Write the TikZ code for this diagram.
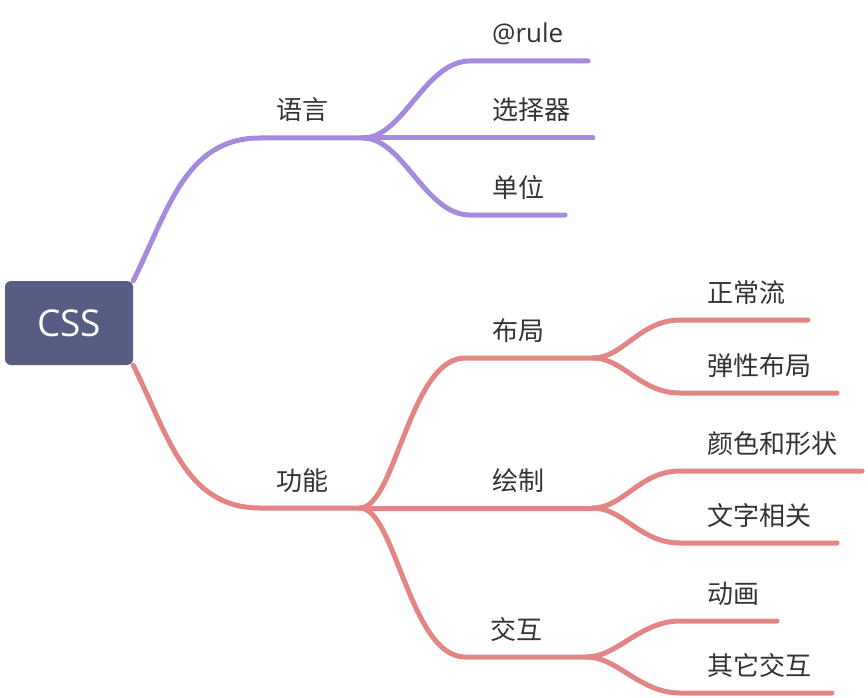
\documentclass[tikz,border=0pt]{standalone}
\usepackage{fontspec}
\setmainfont{Open Sans}
\newfontfamily\cjk{Noto Sans CJK SC}
\usetikzlibrary{backgrounds}
\definecolor{slate}{HTML}{575C83}
\definecolor{lilac}{HTML}{A68ADE}
\definecolor{salmon}{HTML}{E38585}
\definecolor{ink}{HTML}{333333}

\begin{document}
\begin{tikzpicture}[
    x=1pt, y=-1pt,
    rootbox/.style={fill=slate, rounded corners=6pt, minimum width=128pt, minimum height=84pt, text=white, font=\fontsize{37}{40}\selectfont},
    topic/.style={anchor=base west, inner sep=0pt, text=ink, font=\cjk\fontsize{26}{30}\selectfont},
    latin/.style={font=\fontsize{26}{30}\selectfont},
    langline/.style={line width=5pt, line cap=round, draw=lilac},
    funcline/.style={line width=5pt, line cap=round, draw=salmon}
]
\useasboundingbox (0,0) rectangle (868,698);
\node[rootbox] (css) at (69,323) {CSS};

% branch points and line ends
\coordinate (lang) at (260,138);
\coordinate (lang-j) at (363,138);
\coordinate (func) at (260,508);
\coordinate (func-j) at (360,508);

\coordinate (rule-s) at (470,61);
\coordinate (rule-e) at (588,61);
\coordinate (sel-e) at (593,138);
\coordinate (unit-s) at (470,215);
\coordinate (unit-e) at (565,215);

\coordinate (layout-s) at (465,358);
\coordinate (layout-e) at (593,358);
\coordinate (paint-e) at (593,508);
\coordinate (inter-s) at (465,657);
\coordinate (inter-e) at (587,657);

\coordinate (flow-s) at (680,320);
\coordinate (flow-e) at (808,320);
\coordinate (flex-s) at (680,393);
\coordinate (flex-e) at (837,393);
\coordinate (color-s) at (680,471);
\coordinate (color-e) at (862,471);
\coordinate (text-s) at (680,543);
\coordinate (text-e) at (837,543);
\coordinate (anim-s) at (680,621);
\coordinate (anim-e) at (777,621);
\coordinate (other-s) at (680,693);
\coordinate (other-e) at (832,693);

\begin{scope}[on background layer]
% language
\draw[langline] (css.north east) .. controls +(35,-70) and +(-75,0) .. (lang) -- (lang-j);
\draw[langline] (lang-j) .. controls +(40,0) and +(-45,0) .. (rule-s) -- (rule-e);
\draw[langline] (lang-j) -- (sel-e);
\draw[langline] (lang-j) .. controls +(40,0) and +(-45,0) .. (unit-s) -- (unit-e);
% features
\draw[funcline] (css.south east) .. controls +(35,70) and +(-75,0) .. (func) -- (func-j);
\draw[funcline] (func-j) .. controls +(35,0) and +(-55,0) .. (layout-s) -- (layout-e);
\draw[funcline] (func-j) -- (paint-e);
\draw[funcline] (func-j) .. controls +(35,0) and +(-55,0) .. (inter-s) -- (inter-e);
\draw[funcline] (layout-e) .. controls +(30,0) and +(-40,0) .. (flow-s) -- (flow-e);
\draw[funcline] (layout-e) .. controls +(30,0) and +(-40,0) .. (flex-s) -- (flex-e);
\draw[funcline] (paint-e) .. controls +(30,0) and +(-40,0) .. (color-s) -- (color-e);
\draw[funcline] (paint-e) .. controls +(30,0) and +(-40,0) .. (text-s) -- (text-e);
\draw[funcline] (inter-e) .. controls +(30,0) and +(-40,0) .. (anim-s) -- (anim-e);
\draw[funcline] (inter-e) .. controls +(30,0) and +(-40,0) .. (other-s) -- (other-e);
\end{scope}

% labels
\node[topic] (lang-t) at (276,120) {语言};
\node[topic, latin] (rule-t) at (492,43) {@rule};
\node[topic] (sel-t) at (492,120) {选择器};
\node[topic] (unit-t) at (492,197) {单位};
\node[topic] (func-t) at (276,490) {功能};
\node[topic] (layout-t) at (492,340) {布局};
\node[topic] (paint-t) at (492,490) {绘制};
\node[topic] (inter-t) at (490,639) {交互};
\node[topic] (flow-t) at (707,302) {正常流};
\node[topic] (flex-t) at (707,375) {弹性布局};
\node[topic] (color-t) at (707,453) {颜色和形状};
\node[topic] (text-t) at (707,525) {文字相关};
\node[topic] (anim-t) at (707,603) {动画};
\node[topic] (other-t) at (707,675) {其它交互};
\end{tikzpicture}
\end{document}
